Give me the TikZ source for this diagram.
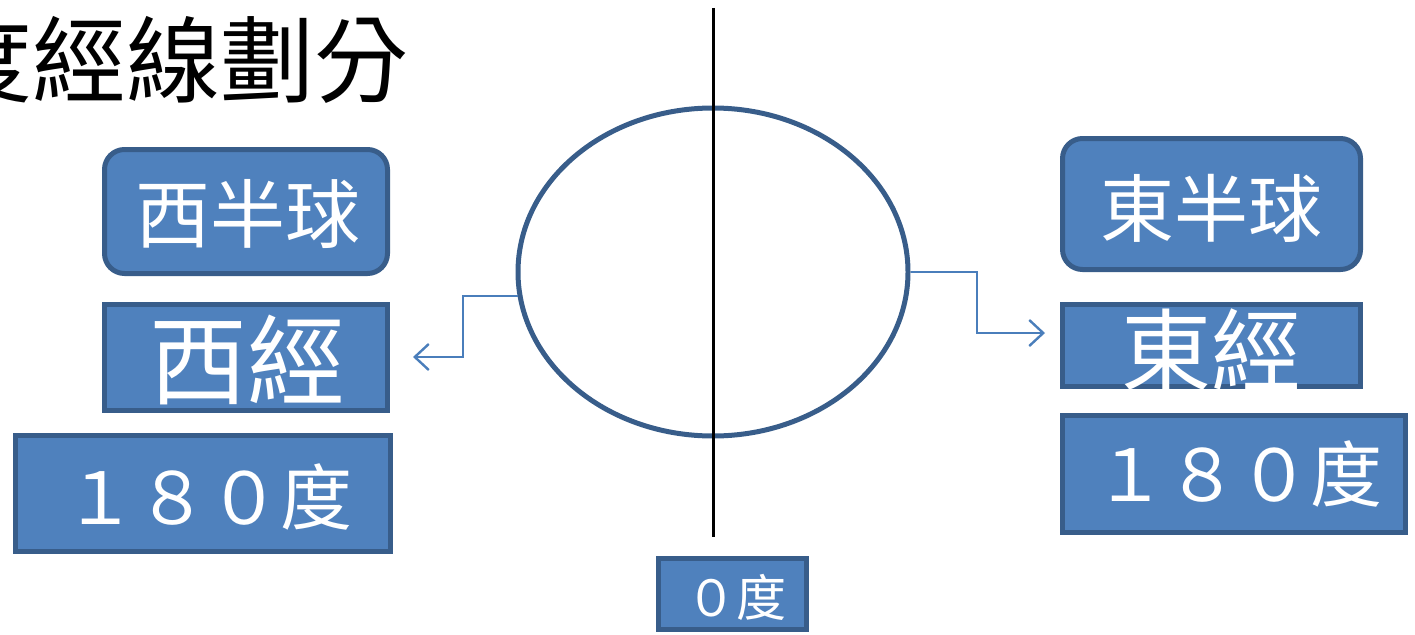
\documentclass[tikz,border=0pt]{standalone}
\usepackage{fontspec}
\newfontfamily\cjk{Noto Sans CJK TC}
\usetikzlibrary{shapes.geometric,arrows.meta}
\definecolor{boxfill}{HTML}{4F81BD}
\definecolor{boxline}{HTML}{385D8A}
\definecolor{connline}{HTML}{4A7EBB}
\tikzset{
  sqbox/.style={draw=boxline, fill=boxfill, line width=5pt, rectangle, inner sep=0pt},
  rbox/.style={sqbox, rounded corners=20pt},
  lbl/.style={text=white, inner sep=0pt, font=\cjk\fontsize{#1}{#1}\selectfont},
  conn/.style={draw=connline, line width=2.4pt, -{Straight Barb[length=14pt,width=26pt,line width=2.4pt]}},
}
\begin{document}
\begin{tikzpicture}[x=1pt,y=-1pt]
\useasboundingbox (0,0) rectangle (1415,634);
% title
\node[inner sep=0pt, anchor=east, font=\cjk\fontsize{94}{94}\selectfont] (title) at (409,60) {度經線劃分};
% meridian line and globe
\coordinate (ltop) at (713,8);
\coordinate (lbot) at (713,537);
\node[ellipse, draw=boxline, line width=5pt, minimum width=390pt, minimum height=328pt, inner sep=0pt] (globe) at (713,272) {};
\draw[black, line width=3pt] (ltop) -- (lbot);
% west boxes
\node[rbox, minimum width=283pt, minimum height=124pt] (wh) at (246,211.5) {};
\node[lbl=75] (whl) at (248,214) {西半球};
\node[sqbox, minimum width=283pt, minimum height=106pt] (wl) at (246,357.5) {};
\node[lbl=98] (wll) at (247,360) {西經};
\node[sqbox, minimum width=375pt, minimum height=116pt] (w180) at (203,493.5) {};
\node[lbl=72] (w180l) at (208,497) {１８０度};
% east boxes
\node[rbox, minimum width=298pt, minimum height=131pt] (eh) at (1211.5,204) {};
\node[lbl=74] (ehl) at (1211,208) {東半球};
\node[sqbox, minimum width=298pt, minimum height=82pt] (el) at (1211.5,345.5) {};
\node[lbl=90] (ell) at (1211,350) {東經};
\node[sqbox, minimum width=343pt, minimum height=117pt] (e180) at (1234,474) {};
\node[lbl=72] (e180l) at (1238,474) {１８０度};
% zero box
\node[sqbox, minimum width=148pt, minimum height=71pt] (zero) at (732.5,594) {};
\node[lbl=50] (zerol) at (736,597) {０度};
% connectors
\coordinate (lbend) at (463,357);
\coordinate (ltip) at (413,357);
\coordinate (rbend) at (977,333);
\coordinate (rtip) at (1045,333);
\draw[conn] (globe.187) -| (lbend) -- (ltip);
\draw[conn] (globe.east) -| (rbend) -- (rtip);
\end{tikzpicture}
\end{document}
